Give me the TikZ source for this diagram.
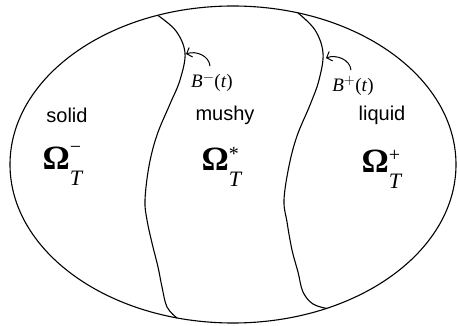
\documentclass[tikz,border=0pt]{standalone}
\usepackage{fontspec}
\setmainfont{Liberation Serif}
\setsansfont{Liberation Sans}
\usetikzlibrary{arrows.meta}
\newcommand{\omlabel}[2]{{\fontsize{34}{34}\selectfont\bfseries Ω}%
  \rlap{\raisebox{#2}{\fontsize{20}{20}\selectfont #1}}%
  \raisebox{-16pt}{\fontsize{22}{22}\selectfont\itshape T}}

\begin{document}
\begin{tikzpicture}[x=1pt, y=-1pt, line width=1.1pt,
    phase/.style={font=\sffamily\fontsize{20}{22}\selectfont, inner sep=0pt},
    region/.style={inner sep=0pt, anchor=base west},
    bound/.style={font=\fontsize{19}{21}\selectfont, inner sep=1pt},
    move/.style={-{Straight Barb[length=4.5pt,width=10pt]}, line width=1pt}]
      \useasboundingbox (0,0) rectangle (458,326);
      % outer domain
      \draw (233,164.5) ellipse [x radius=223, y radius=158.5];
      % free boundaries
      \draw plot[smooth, tension=0.6] coordinates {(158,15.5) (176,31) (185,53) (180,80)
        (170,104) (157,135) (149,166) (145,200) (147,220) (152,243) (158,267) (162,287)
        (167,307) (177,318)};
      \draw plot[smooth, tension=0.6] coordinates {(298,13) (315,30) (323,53) (319,80)
        (310,105) (297,136) (289,166) (284,200) (287,222) (292,250) (298,272) (303,292)
        (313,304) (327,308.5)};
      % phase names
      \node[phase] (solid) at (67,115) {solid};
      \node[phase] (mushy) at (225,115) {mushy};
      \node[phase] (liquid) at (382,115) {liquid};
      % regions
      \node[region] (omm) at (42,170) {\omlabel{−}{17pt}};
      \node[region] (oms) at (201,171) {\omlabel{*}{10pt}};
      \node[region] (omp) at (361,173) {\omlabel{+}{12pt}};
      % motion of the boundaries
      \node[bound] (bminus) at (212,82) {\textit{B}$^{-}$(\textit{t})};
      \node[bound] (bplus) at (353,86) {\textit{B}$^{+}$(\textit{t})};
      \coordinate (tminus) at (186,54);
      \coordinate (tplus) at (326,58);
      \draw[move] ([xshift=-2pt,yshift=5pt]bminus.north) to[out=95, in=20] (tminus);
      \draw[move] ([xshift=-2pt,yshift=5pt]bplus.north) to[out=95, in=20] (tplus);
    \end{tikzpicture}
\end{document}
